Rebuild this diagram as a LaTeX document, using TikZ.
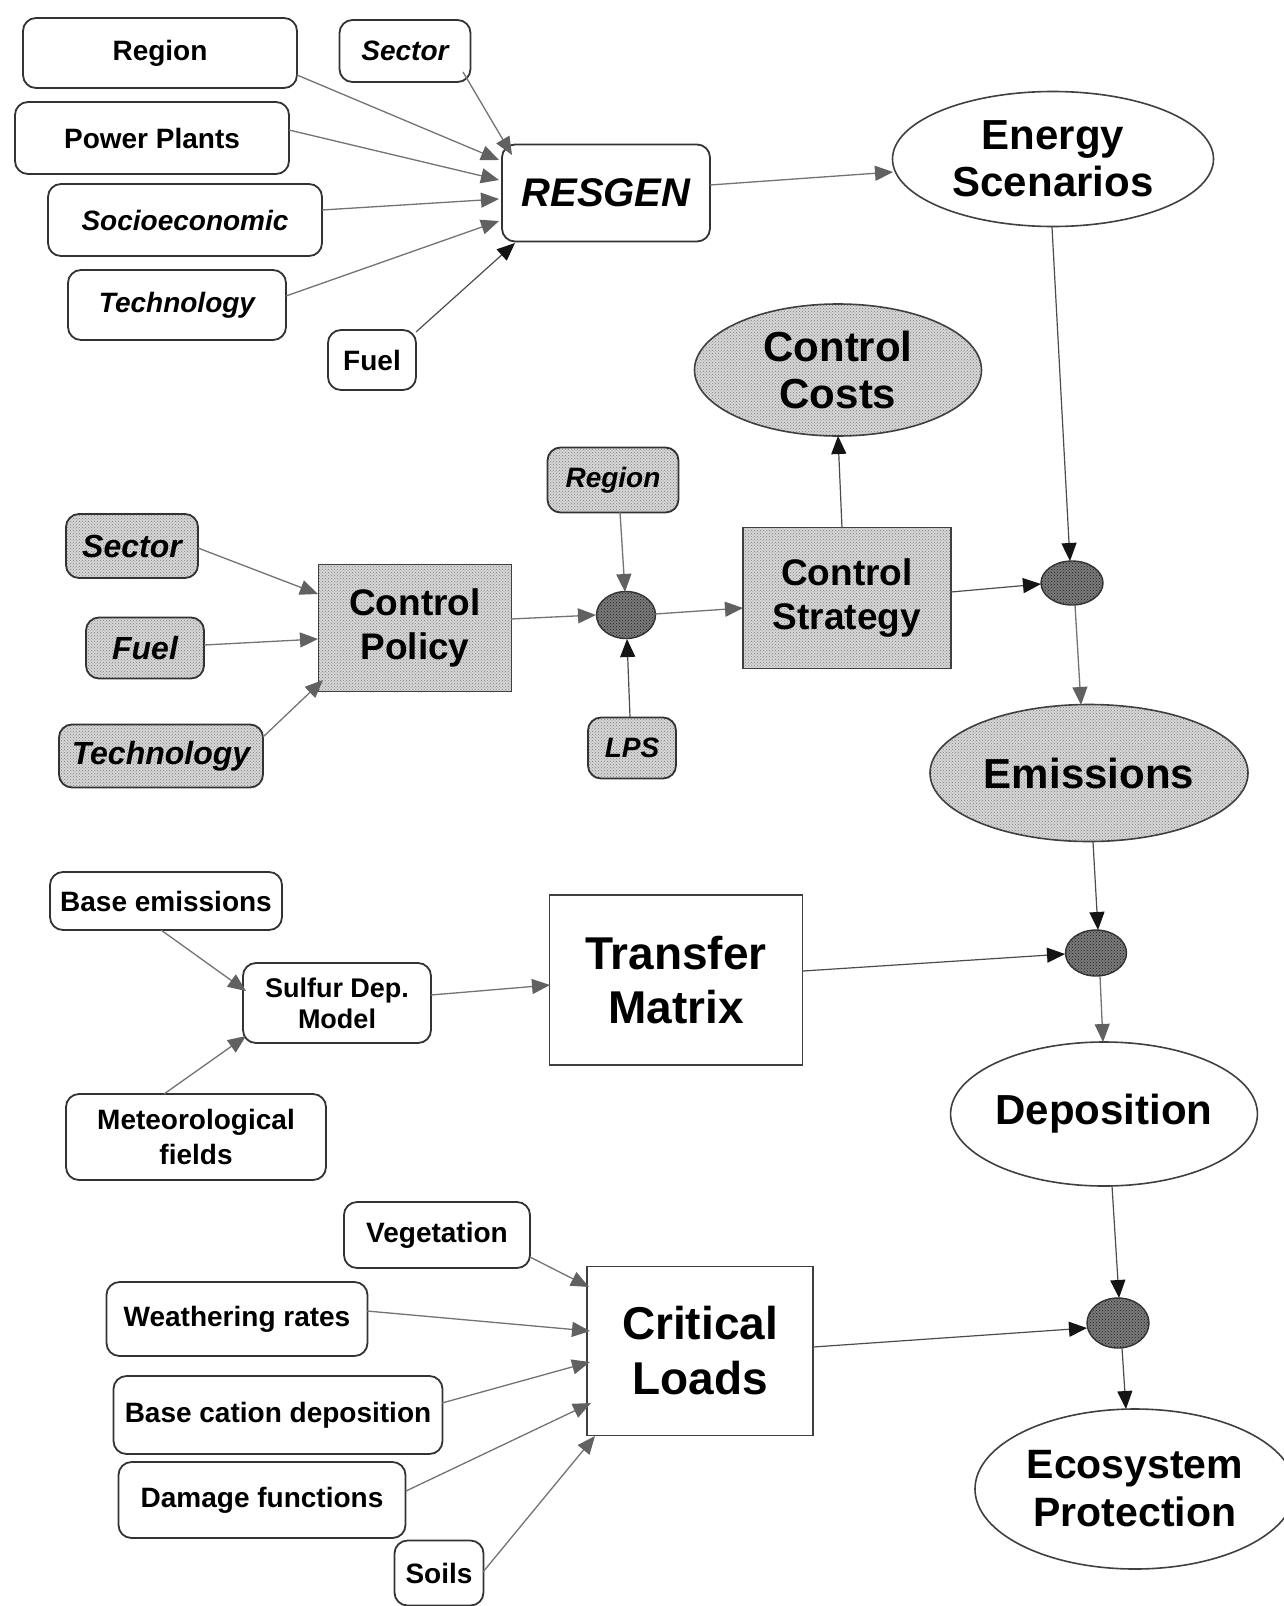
\documentclass[tikz,border=0pt]{standalone}
\usepackage{fontspec}
\setmainfont{Liberation Sans}
\usetikzlibrary{arrows.meta,shapes.geometric,calc,patterns}
\newcommand\fsz[2]{\fontsize{#1}{#2}\selectfont\bfseries}
\begin{document}
\begin{tikzpicture}[x=1pt,y=-1pt,
  rbox/.style={draw=black!80, line width=1.8pt, rounded corners=13pt, fill=white, inner sep=0pt, align=center, font=\fsz{28}{34}},
  sqbox/.style={draw=black!75, line width=1.8pt, fill=white, inner sep=0pt, align=center},
  ell/.style={ellipse, draw=black!75, line width=1.6pt, fill=white, inner sep=0pt, align=center, font=\fsz{42}{47}},
  dots/.style={preaction={fill=black!16}, pattern=crosshatch dots, pattern color=black!50},
  junc/.style={ellipse, draw=black!80, line width=1.4pt, inner sep=0pt, preaction={fill=black!52}, pattern=crosshatch dots, pattern color=black!88},
  conn/.style={draw=black!55, line width=1.3pt, -{Triangle[length=18pt,width=15pt,color=black!62]}},
  conk/.style={draw=black!70, line width=1.2pt, -{Triangle[length=18pt,width=15pt,color=black!92]}}
]
\useasboundingbox (0,0) rectangle (1284,1606);
\fill[white] (0,0) rectangle (1284,1606);
\clip (0,0) rectangle (1284,1606);

% --- top group
\node[rbox, minimum width=274pt, minimum height=70pt] (region) at (160,53) {Region};
\node[rbox, minimum width=131pt, minimum height=62pt] (sectorA) at (405,51) {\itshape Sector};
\node[rbox, minimum width=274pt, minimum height=72pt] (power) at (152,138) {Power Plants};
\node[rbox, minimum width=274pt, minimum height=72pt] (socio) at (185,220) {\itshape Socioeconomic};
\node[rbox, minimum width=218pt, minimum height=70pt] (techA) at (177,305) {\itshape Technology};
\node[rbox, minimum width=88pt, minimum height=60pt] (fuelA) at (372,360) {Fuel};
\node[rbox, minimum width=208pt, minimum height=97pt, font=\fsz{40}{46}] (resgen) at (606,193) {\itshape RESGEN};
\node[ell, minimum width=321pt, minimum height=135pt] (energy) at (1053,159) {Energy\\Scenarios};

% --- control group
\node[ell, dots, minimum width=287pt, minimum height=132pt] (costs) at (838,370) {Control\\Costs};
\node[rbox, dots, minimum width=131pt, minimum height=65pt] (regionB) at (613,480) {\itshape Region};
\node[rbox, dots, minimum width=132pt, minimum height=64pt, font=\fsz{32}{38}] (sectorB) at (132,546) {\itshape Sector};
\node[rbox, dots, minimum width=118pt, minimum height=61pt, font=\fsz{32}{38}] (fuelB) at (145,648) {\itshape Fuel};
\node[rbox, dots, minimum width=204pt, minimum height=63pt, font=\fsz{32}{38}] (techB) at (161,756) {\itshape Technology};
\node[sqbox, dots, minimum width=193pt, minimum height=127pt, font=\fsz{37}{44}] (policy) at (415,628) {Control\\Policy};
\node[junc, minimum width=59pt, minimum height=47pt] (j1) at (626,615) {};
\node[rbox, dots, minimum width=88pt, minimum height=61pt] (lps) at (632,748) {\itshape LPS};
\node[sqbox, dots, minimum width=208pt, minimum height=141pt, font=\fsz{37}{44}] (strategy) at (847,598) {Control\\Strategy};
\node[junc, minimum width=62pt, minimum height=44pt] (j2) at (1072,583) {};
\node[ell, dots, minimum width=318pt, minimum height=137pt] (emis) at (1089,773) {Emissions};

% --- transfer group
\node[rbox, minimum width=232pt, minimum height=58pt] (baseem) at (166,901) {Base emissions};
\node[rbox, minimum width=188pt, minimum height=80pt, font=\fsz{27}{31}] (sulfur) at (337,1003) {Sulfur Dep.\\Model};
\node[rbox, minimum width=260pt, minimum height=86pt, font=\fsz{28}{35}] (meteo) at (196,1137) {Meteorological\\fields};
\node[sqbox, minimum width=253pt, minimum height=170pt, font=\fsz{46}{54}] (transfer) at (676,980) {Transfer\\Matrix};
\node[junc, minimum width=61pt, minimum height=46pt] (j3) at (1096,953) {};
\node[ell, minimum width=303pt, minimum height=144pt] (depo) at (1104,1114) {Deposition};

% --- critical loads group
\node[rbox, minimum width=186pt, minimum height=66pt] (veg) at (437,1235) {Vegetation};
\node[rbox, minimum width=261pt, minimum height=74pt] (weath) at (237,1319) {Weathering rates};
\node[sqbox, minimum width=226pt, minimum height=169pt, font=\fsz{46}{55}] (crit) at (700,1351) {Critical\\Loads};
\node[rbox, minimum width=329pt, minimum height=78pt] (basecat) at (278,1415) {Base cation deposition};
\node[rbox, minimum width=287pt, minimum height=76pt] (damage) at (262,1500) {Damage functions};
\node[rbox, minimum width=89pt, minimum height=65pt] (soils) at (439,1573) {Soils};
\node[junc, minimum width=62pt, minimum height=50pt] (j4) at (1118,1323) {};
\node[ell, minimum width=320pt, minimum height=160pt, font=\fsz{41}{48}] (eco) at (1135,1489) {Ecosystem\\Protection};

% --- connectors: top
\draw[conn] ($(sectorA)+(58,21)$) -- ($(resgen)+(-94,-38)$);
\draw[conn] ($(region)+(137,22)$) -- ($(resgen)+(-107,-33)$);
\draw[conn] ($(power)+(137,-8)$) -- ($(resgen)+(-107,-13)$);
\draw[conn] ($(socio)+(137,-10)$) -- ($(resgen)+(-107,6)$);
\draw[conn] ($(techA)+(109,-9)$) -- ($(resgen)+(-107,28)$);
\draw[conk] ($(fuelA)+(44,-28)$) -- ($(resgen)+(-91,50)$);
\draw[conn] ($(resgen)+(104,-8)$) -- ($(energy)+(-160,13)$);
\draw[conk] ($(energy)+(-1,68)$) -- ($(j2)+(-2,-22)$);

% --- connectors: control
\draw[conn] ($(j2)+(3,22)$) -- ($(emis)+(-8,-68)$);
\draw[conk] ($(strategy)+(104,-6)$) -- ($(j2)+(-31,1)$);
\draw[conk] ($(strategy)+(-5,-70)$) -- ($(costs)+(0,66)$);
\draw[conn] ($(policy)+(96,-9)$) -- ($(j1)+(-30,0)$);
\draw[conn] ($(j1)+(29,-1)$) -- ($(strategy)+(-104,10)$);
\draw[conn] ($(regionB)+(7,32)$) -- ($(j1)+(-1,-23)$);
\draw[conk] ($(lps)+(-2,-31)$) -- ($(j1)+(1,24)$);
\draw[conn] ($(sectorB)+(66,2)$) -- ($(policy)+(-97,-34)$);
\draw[conn] ($(fuelB)+(59,-3)$) -- ($(policy)+(-97,11)$);
\draw[conn] ($(techB)+(102,-19)$) -- ($(policy)+(-92,52)$);

% --- connectors: transfer
\draw[conk] ($(emis)+(4,69)$) -- ($(j3)+(2,-23)$);
\draw[conk] ($(transfer)+(127,-9)$) -- ($(j3)+(-31,1)$);
\draw[conn] ($(j3)+(4,23)$) -- ($(depo)+(-1,-72)$);
\draw[conn] ($(baseem)+(-5,29)$) -- ($(sulfur)+(-91,-12)$);
\draw[conn] ($(meteo)+(-32,-43)$) -- ($(sulfur)+(-91,33)$);
\draw[conn] ($(sulfur)+(94,-8)$) -- ($(transfer)+(-126,5)$);

% --- connectors: critical loads
\draw[conk] ($(depo)+(8,72)$) -- ($(j4)+(1,-25)$);
\draw[conk] ($(crit)+(113,-4)$) -- ($(j4)+(-31,5)$);
\draw[conk] ($(j4)+(4,25)$) -- ($(eco)+(-9,-80)$);
\draw[conn] ($(veg)+(93,22)$) -- ($(crit)+(-111,-64)$);
\draw[conn] ($(weath)+(130,-8)$) -- ($(crit)+(-110,-20)$);
\draw[conn] ($(basecat)+(164,-12)$) -- ($(crit)+(-110,11)$);
\draw[conn] ($(damage)+(144,-9)$) -- ($(crit)+(-109,52)$);
\draw[conn] ($(soils)+(44,-1)$) -- ($(crit)+(-105,85)$);
\end{tikzpicture}
\end{document}
